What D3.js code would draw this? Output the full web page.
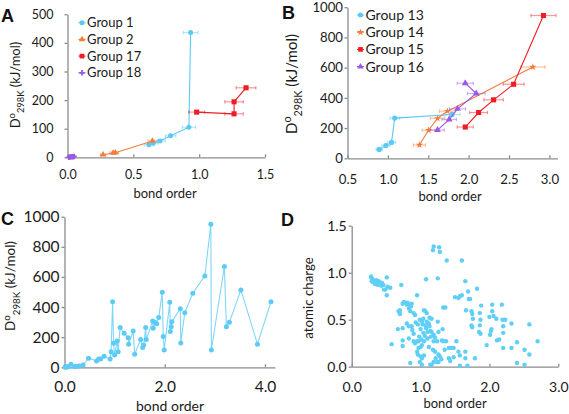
<!DOCTYPE html>
<html><head><meta charset="utf-8">
<script src="https://cdn.jsdelivr.net/npm/d3@7"></script>
<style>body{margin:0;background:#fff}svg{display:block}</style>
</head><body>
<svg id="c" width="569" height="414"></svg>
<script>
// ---------- Panel A data ----------
const g1X = [0.935, 0.922, 0.783, 0.702, 0.651, 0.618];
const g1Y = [436, 105, 75, 57, 49, 44];
const g1E = [0.055, 0.05, 0.04, 0.04, 0.035, 0.035];
const g2X = [0.27, 0.346, 0.363, 0.645];
const g2Y = [9, 15, 16, 57];
const g2E = [0.02, 0.025, 0.025, 0.035];
const g17X = [0.981, 1.265, 1.265, 1.356];
const g17Y = [158, 152, 194, 243];
const g17E = [0.06, 0.07, 0.07, 0.075];
const g18X = [0.01, 0.02, 0.03, 0.04, 0.05];
const g18Y = [0.1, 1, 2, 2, 3];
const g18E = [0.005, 0.005, 0.005, 0.005, 0.005];
const legendA = ["Group 1", "Group 2", "Group 17", "Group 18"];
// ---------- Panel B data ----------
const g13X = [0.893, 0.975, 1.045, 1.085, 1.793];
const g13Y = [59, 84, 105, 266, 290];
const g13E = [0.04, 0.05, 0.05, 0.06, 0.1];
const g14X = [1.39, 1.503, 1.614, 1.738, 2.795];
const g14Y = [88, 186, 264, 312, 604];
const g14E = [0.075, 0.08, 0.09, 0.1, 0.15];
const g15X = [1.958, 2.123, 2.309, 2.557, 2.926];
const g15Y = [207, 303, 387, 490, 945];
const g15E = [0.1, 0.11, 0.12, 0.13, 0.155];
const g16X = [1.958, 2.094, 1.862, 1.759, 1.614];
const g16Y = [497, 429, 327, 257, 187];
const g16E = [0.1, 0.11, 0.1, 0.09, 0.085];
const legendB = ["Group 13", "Group 14", "Group 15", "Group 16"];
// ---------- Panel C data ----------
const cX = [0.01,0.03,0.05,0.07,0.13,0.2,0.23,0.29,0.37,0.48,0.64,0.68,0.72,0.79,0.91,0.93,0.96,0.98,1.0,1.05,1.07,1.11,1.19,1.27,1.28,1.37,1.40,1.52,1.56,1.58,1.62,1.63,1.76,1.77,1.81,1.84,1.88,1.95,1.97,1.99,2.10,2.11,2.13,2.14,2.31,2.32,2.40,2.56,2.80,2.92,2.93,3.19,3.23,3.29,3.52,3.85,4.12];
const cY = [2,1,3,4,20,4,5,9,15,60,42,55,55,73,55,104,436,160,82,175,104,264,226,197,153,241,86,184,131,148,264,184,308,259,297,290,330,498,204,115,432,237,270,303,388,162,363,492,607,950,115,669,270,299,514,153,436];
// ---------- Panel D data ----------
const dX = [0.28,0.29,0.32,0.33,0.31,0.36,0.37,0.39,0.41,0.40,0.44,0.46,0.38,0.34,0.51,0.52,0.49,0.51,0.56,0.29,0.37,0.43,0.47,0.30,0.35,
0.72,0.58,0.67,0.68,0.70,0.70,0.74,0.76,0.74,0.74,0.74,0.80,0.81,0.83,0.84,0.86,0.87,0.85,0.90,0.92,0.95,0.80,0.83,0.87,0.88,0.90,0.83,0.90,0.92,0.95,0.97,0.85,0.95,0.96,1.00,1.02,0.99,1.02,1.05,0.97,1.00,1.02,1.05,0.99,1.02,1.04,1.07,1.05,1.09,1.03,1.07,1.09,1.12,1.08,1.13,1.10,1.14,1.16,1.19,1.15,1.21,1.19,1.24,1.13,1.16,1.25,1.32,1.26,1.31,1.33,1.37,1.41,1.45,1.48,1.52,1.55,1.41,1.43,1.26,1.21,1.19,1.24,1.26,1.28,1.30,1.57,1.48,1.57,1.65,1.65,1.68,1.79,1.16,1.14,1.08,1.19,1.18,1.27,1.28,1.25,1.38,1.60,1.33,1.36,1.50,1.55,1.57,1.60,1.66,1.65,1.69,1.70,1.72,1.74,1.75,1.76,1.74,1.75,1.82,1.86,1.88,1.87,1.86,1.85,1.87,1.96,2.01,2.02,2.03,2.04,2.04,2.06,2.10,2.11,2.14,2.18,2.19,2.20,2.20,2.20,2.23,2.32,2.32,2.40,2.40,2.51,2.58,2.58,2.51,2.70,2.00,
0.93,0.96,1.00,1.04,1.06,1.10,0.98,1.01,1.12,1.18,1.22,1.35];
const dY = [0.96,0.94,0.92,0.91,0.90,0.92,0.90,0.91,0.90,0.88,0.89,0.87,0.87,0.88,0.95,0.85,0.82,0.76,0.84,0.91,0.89,0.86,0.82,0.93,0.90,
0.87,0.24,0.40,0.59,0.56,0.60,0.67,0.69,0.41,0.28,0.22,0.66,0.68,0.62,0.66,0.64,0.67,0.59,0.57,0.55,0.76,0.46,0.43,0.43,0.39,0.35,0.30,0.27,0.25,0.27,0.27,0.04,0.16,0.13,0.11,0.09,0.05,0.02,0.12,0.20,0.21,0.23,0.27,0.50,0.48,0.51,0.59,0.60,0.57,0.45,0.44,0.48,0.46,0.41,0.43,0.37,0.38,0.37,0.34,0.32,0.31,0.27,0.27,0.52,0.51,0.48,0.40,0.37,0.28,0.27,0.27,0.20,0.20,0.20,0.27,0.16,0.09,0.06,0.13,0.16,0.05,0.05,0.05,0.11,0.08,0.12,0.10,0.01,0.16,0.09,0.01,0.09,0.02,0.02,0.93,1.28,1.24,1.27,1.22,0.94,1.13,1.13,0.63,0.63,0.74,0.73,0.75,0.76,0.60,0.91,0.80,0.72,0.72,0.59,0.56,0.51,0.44,0.42,0.83,0.57,0.65,0.50,0.44,0.37,0.35,0.23,0.34,0.38,0.40,0.66,0.59,0.54,0.51,0.28,0.29,0.66,0.50,0.43,0.36,0.20,0.50,0.46,0.20,0.26,0.04,0.18,0.45,0.13,0.02,0.27,0.53,
0.47,0.45,0.40,0.36,0.33,0.30,0.32,0.29,0.21,0.18,0.09,0.18];

// ---------- styling ----------
const FONT = "Lato, 'Liberation Sans', sans-serif";
const AXIS = "#8c8c8c";
const TXT = "#1a1a1a";
const BLUE = "#5cc9f5", ORANGE = "#f47b3a", RED = "#ee1c24", PURPLE = "#9a58e6";
const svg = d3.select("#c");

function axes(xs, ys, o) {
  const xa = d3.axisBottom(xs).tickValues(o.xTicks).tickFormat(d3.format(".1f"))
    .tickSizeInner(-3).tickSizeOuter(0).tickPadding(o.xPad);
  const ya = d3.axisLeft(ys).tickValues(o.yTicks).tickFormat(o.yFmt)
    .tickSizeInner(3).tickSizeOuter(0).tickPadding(o.yPad);
  const gx = svg.append("g").attr("transform", `translate(0,${ys.range()[0]})`).call(xa);
  const gy = svg.append("g").attr("transform", `translate(${xs.range()[0]},0)`).call(ya);
  [gx, gy].forEach(a => {
    a.attr("font-family", null).attr("font-size", null);
    a.select(".domain").attr("stroke", AXIS).attr("stroke-width", 1.3);
    a.selectAll(".tick line").attr("stroke", AXIS).attr("stroke-width", 1.3);
    a.selectAll(".tick text").attr("fill", TXT).style("font-family", FONT).style("font-size", o.fs + "px");
  });
}
function xTitle(x, y, fs) {
  svg.append("text").attr("x", x).attr("y", y).attr("text-anchor", "middle")
    .style("font-family", FONT).style("font-size", fs + "px").attr("fill", TXT).text("bond order");
}
function yTitleD(x, y, fs) {
  const t = svg.append("text").attr("transform", `translate(${x},${y}) rotate(-90)`)
    .attr("text-anchor", "middle").style("font-family", FONT).style("font-size", fs + "px").attr("fill", TXT);
  t.append("tspan").text("D");
  t.append("tspan").attr("dy", -fs * 0.38).style("font-size", (fs * 0.72) + "px").text("o");
  t.append("tspan").attr("dy", fs * 0.72).style("font-size", (fs * 0.72) + "px").text("298K");
  t.append("tspan").attr("dy", -fs * 0.34).text(" (kJ/mol)");
}
function letter(x, y, s, fs) {
  svg.append("text").attr("x", x).attr("y", y).style("font-family", "'Liberation Sans', Arial, sans-serif")
    .style("font-weight", "bold").style("font-size", fs + "px").attr("fill", "#111").text(s);
}
function sym(shape, size) {
  return d3.symbol().type(shape).size(size)();
}
function series(xs, ys, X, Y, E, color, shape, size) {
  const pts = X.map((x, i) => ({ x, y: Y[i], e: E[i] }));
  const g = svg.append("g");
  const eb = g.append("g").attr("stroke", color).attr("stroke-opacity", 0.45).attr("stroke-width", 1.2);
  pts.forEach(p => {
    const y = ys(p.y), xa = xs(p.x - p.e), xb = xs(p.x + p.e);
    eb.append("line").attr("x1", xa).attr("x2", xb).attr("y1", y).attr("y2", y);
    eb.append("line").attr("x1", xa).attr("x2", xa).attr("y1", y - 1.8).attr("y2", y + 1.8);
    eb.append("line").attr("x1", xb).attr("x2", xb).attr("y1", y - 1.8).attr("y2", y + 1.8);
  });
  g.append("path").datum(pts).attr("fill", "none").attr("stroke", color).attr("stroke-width", 1.1)
    .attr("d", d3.line().x(d => xs(d.x)).y(d => ys(d.y)));
  g.selectAll(".m").data(pts).join("path").attr("fill", color)
    .attr("transform", d => `translate(${xs(d.x)},${ys(d.y)})`).attr("d", sym(shape, size));
}
function legend(x, y0, dy, names, colors, shapes, sizes, fs) {
  names.forEach((n, i) => {
    const y = y0 + i * dy;
    svg.append("line").attr("x1", x - 3.5).attr("x2", x + 3.5).attr("y1", y).attr("y2", y)
      .attr("stroke", colors[i]).attr("stroke-width", 1.1);
    svg.append("path").attr("transform", `translate(${x},${y})`).attr("d", sym(shapes[i], sizes[i])).attr("fill", colors[i]);
    svg.append("text").attr("x", x + 5).attr("y", y + fs * 0.36).style("font-family", FONT)
      .style("font-size", fs + "px").attr("fill", TXT).text(n);
  });
}

// ---------- Panel A ----------
{
  const xs = d3.scaleLinear().domain([0, 1.5]).range([67.5, 265]);
  const ys = d3.scaleLinear().domain([0, 500]).range([157.3, 14.3]);
  axes(xs, ys, { xTicks: [0, 0.5, 1, 1.5], yTicks: [0, 100, 200, 300, 400, 500], yFmt: d3.format("d"), xPad: 13, yPad: 11, fs: 12.5 });
  series(xs, ys, g1X, g1Y, g1E, BLUE, d3.symbolCircle, 20);
  series(xs, ys, g2X, g2Y, g2E, ORANGE, d3.symbolTriangle, 18);
  series(xs, ys, g17X, g17Y, g17E, RED, d3.symbolSquare, 26);
  series(xs, ys, g18X, g18Y, g18E, PURPLE, d3.symbolCross, 16);
  legend(82, 22.7, 16.7, legendA, [BLUE, ORANGE, RED, PURPLE],
    [d3.symbolCircle, d3.symbolTriangle, d3.symbolSquare, d3.symbolCross], [20, 18, 22, 16], 13);
  xTitle(165, 198, 13);
  yTitleD(20, 85, 13);
  letter(1, 22, "A", 18);
}
// ---------- Panel B ----------
{
  const xs = d3.scaleLinear().domain([0.5, 3.1]).range([347.5, 557.5]);
  const ys = d3.scaleLinear().domain([0, 1000]).range([158.3, 7.2]);
  axes(xs, ys, { xTicks: [0.5, 1, 1.5, 2, 2.5, 3], yTicks: [0, 200, 400, 600, 800, 1000], yFmt: d3.format("d"), xPad: 16, yPad: 1.5, fs: 13.2 });
  series(xs, ys, g13X, g13Y, g13E, BLUE, d3.symbolCircle, 22);
  series(xs, ys, g14X, g14Y, g14E, ORANGE, d3.symbolStar, 16);
  series(xs, ys, g15X, g15Y, g15E, RED, d3.symbolSquare, 26);
  series(xs, ys, g16X, g16Y, g16E, PURPLE, d3.symbolTriangle, 20);
  legend(360.5, 15, 17.2, legendB, [BLUE, ORANGE, RED, PURPLE],
    [d3.symbolCircle, d3.symbolStar, d3.symbolSquare, d3.symbolTriangle], [20, 16, 22, 18], 14);
  xTitle(450, 201, 13);
  yTitleD(297, 84, 15);
  letter(282, 19, "B", 18);
}
// ---------- Panel C ----------
{
  const xs = d3.scaleLinear().domain([0, 4.2]).range([64.5, 275]);
  const ys = d3.scaleLinear().domain([0, 1000]).range([367.3, 216.7]);
  axes(xs, ys, { xTicks: [0, 2, 4], yTicks: [0, 200, 400, 600, 800, 1000], yFmt: d3.format("d"), xPad: 14, yPad: 2, fs: 15.5 });
  const pts = cX.map((x, i) => ({ x, y: cY[i] }));
  svg.append("path").datum(pts).attr("fill", "none").attr("stroke", "#7fd6f7").attr("stroke-width", 1.1)
    .attr("d", d3.line().x(d => xs(d.x)).y(d => ys(d.y)));
  svg.append("g").selectAll("circle").data(pts).join("circle")
    .attr("cx", d => xs(d.x)).attr("cy", d => ys(d.y)).attr("r", 2.5).attr("fill", "#5ccbf7");
  xTitle(170, 411, 14);
  yTitleD(15, 286, 13.5);
  letter(1, 225, "C", 18);
}
// ---------- Panel D ----------
{
  const xs = d3.scaleLinear().domain([0, 3]).range([351.7, 558.3]);
  const ys = d3.scaleLinear().domain([0, 1.5]).range([366.7, 225.7]);
  axes(xs, ys, { xTicks: [0, 1, 2, 3], yTicks: [0, 0.5, 1, 1.5], yFmt: d3.format(".1f"), xPad: 15.5, yPad: 2, fs: 14 });
  svg.append("g").selectAll("circle").data(dX.map((x, i) => ({ x, y: dY[i] }))).join("circle")
    .attr("cx", d => xs(d.x)).attr("cy", d => ys(d.y)).attr("r", 2.2).attr("fill", "#5fcff7");
  xTitle(455, 408, 13);
  svg.append("text").attr("transform", "translate(313,298) rotate(-90)").attr("text-anchor", "middle")
    .style("font-family", FONT).style("font-size", "13.3px").attr("fill", TXT).text("atomic charge");
  letter(281, 226, "D", 18);
}
</script>
</body></html>
